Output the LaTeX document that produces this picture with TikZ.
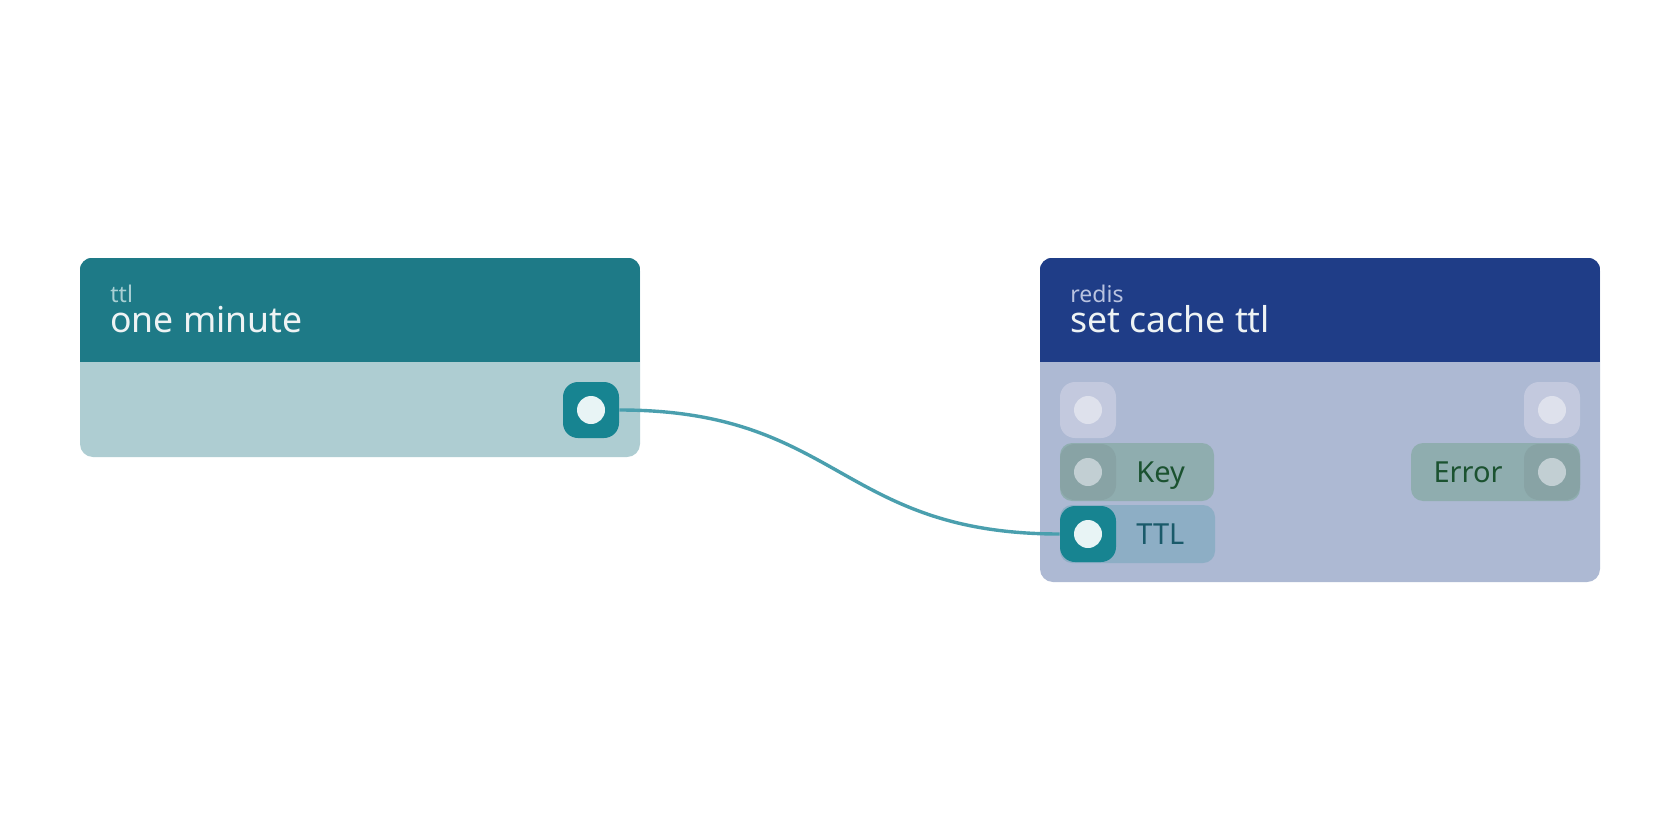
\documentclass[tikz,border=0pt]{standalone}
\usepackage{fontspec}
\setmainfont{Noto Sans}
\usetikzlibrary{positioning}

\definecolor{ttlhead}{HTML}{1E7A87}
\definecolor{ttlbody}{HTML}{AECDD2}
\definecolor{redishead}{HTML}{1F3D87}
\definecolor{redisbody}{HTML}{ADB9D3}
\definecolor{portteal}{HTML}{178491}
\definecolor{dotlight}{HTML}{E8F4F5}
\definecolor{portempty}{HTML}{C3C9DE}
\definecolor{dotempty}{HTML}{DEE1EC}
\definecolor{rowgreen}{HTML}{8FADAF}
\definecolor{portgreen}{HTML}{88A3A5}
\definecolor{dotgreen}{HTML}{C2CFD3}
\definecolor{txtgreen}{HTML}{1B5230}
\definecolor{rowblue}{HTML}{8DAEC5}
\definecolor{txtblue}{HTML}{1A5A6A}
\definecolor{wirecol}{HTML}{4A9FAE}
\definecolor{titlecol}{HTML}{EEF3F4}
\definecolor{ttlsub}{HTML}{A9D0D4}
\definecolor{redissub}{HTML}{B9C3E0}

\begin{document}
\begin{tikzpicture}[x=0.5pt, y=-0.5pt,
  card/.style = {rounded corners=6.5pt, minimum width=280pt, inner sep=0pt},
  title/.style = {anchor=base west, inner sep=0pt, text=titlecol, font=\fontsize{17.8pt}{20pt}\selectfont},
  kind/.style = {anchor=base west, inner sep=0pt, font=\fontsize{11.5pt}{14pt}\selectfont},
  rowbox/.style = {rounded corners=6pt, minimum height=29pt, inner sep=0pt},
  port/.style = {minimum size=28pt, rounded corners=7.5pt, inner sep=0pt},
  dot/.style = {circle, minimum size=14pt, inner sep=0pt},
  label/.style = {inner sep=0pt, font=\fontsize{14.5pt}{17pt}\selectfont},
  wire/.style = {draw=wirecol, line width=1.7pt}]
\useasboundingbox[fill=white] (0,0) rectangle (1680,840);

% ttl node
\node[card, fill=ttlbody, minimum height=99.5pt] (ttl) at (360,357.5) {};
\begin{scope}
\clip[rounded corners=6.5pt] (ttl.north west) rectangle (ttl.south east);
\fill[ttlhead] (ttl.north west) rectangle ([yshift=-52pt]ttl.north east);
\end{scope}
\node[kind, text=ttlsub] (ttlkind) at (110,302) {ttl};
\node[title] (ttlname) at (110,332) {one minute};
\node[port, fill=portteal] (ttlout) at (591,410) {};
\node[dot, fill=dotlight] at (ttlout) {};

% redis node
\node[card, fill=redisbody, minimum height=162pt] (redis) at (1320,420) {};
\begin{scope}
\clip[rounded corners=6.5pt] (redis.north west) rectangle (redis.south east);
\fill[redishead] (redis.north west) rectangle ([yshift=-52pt]redis.north east);
\end{scope}
\node[kind, text=redissub] (rediskind) at (1070,302) {redis};
\node[title] (redisname) at (1070,332) {set cache ttl};

% rows
\node[rowbox, fill=rowgreen, minimum width=77pt] (keyrow) at (1137,472) {};
\node[rowbox, fill=rowblue, minimum width=77.5pt] (ttlrow) at (1137.5,534) {};
\node[rowbox, fill=rowgreen, minimum width=84.5pt] (errrow) at (1495.5,472) {};

% ports
\node[port, fill=portempty] (execin) at (1088,410) {};
\node[port, fill=portempty] (execout) at (1552,410) {};
\node[port, fill=portgreen] (keyin) at (1088,472) {};
\node[port, fill=portgreen] (errout) at (1552,472) {};
\node[port, fill=portteal] (ttlin) at (1088,534) {};
\foreach \p in {execin, execout}
  \node[dot, fill=dotempty] at (\p) {};
\foreach \p in {keyin, errout}
  \node[dot, fill=dotgreen] at (\p) {};
\node[dot, fill=dotlight] at (ttlin) {};

\node[label, anchor=base west, text=txtgreen] (keylbl) at (1136,482) {Key};
\node[label, anchor=base west, text=txtblue] (ttllbl) at (1136,544) {TTL};
\node[label, anchor=base east, text=txtgreen] (errlbl) at (1503,482) {Error};

\draw[wire] (ttlout.east) .. controls +(220,0) and +(-220,0) .. (ttlin.west);
\end{tikzpicture}
\end{document}
